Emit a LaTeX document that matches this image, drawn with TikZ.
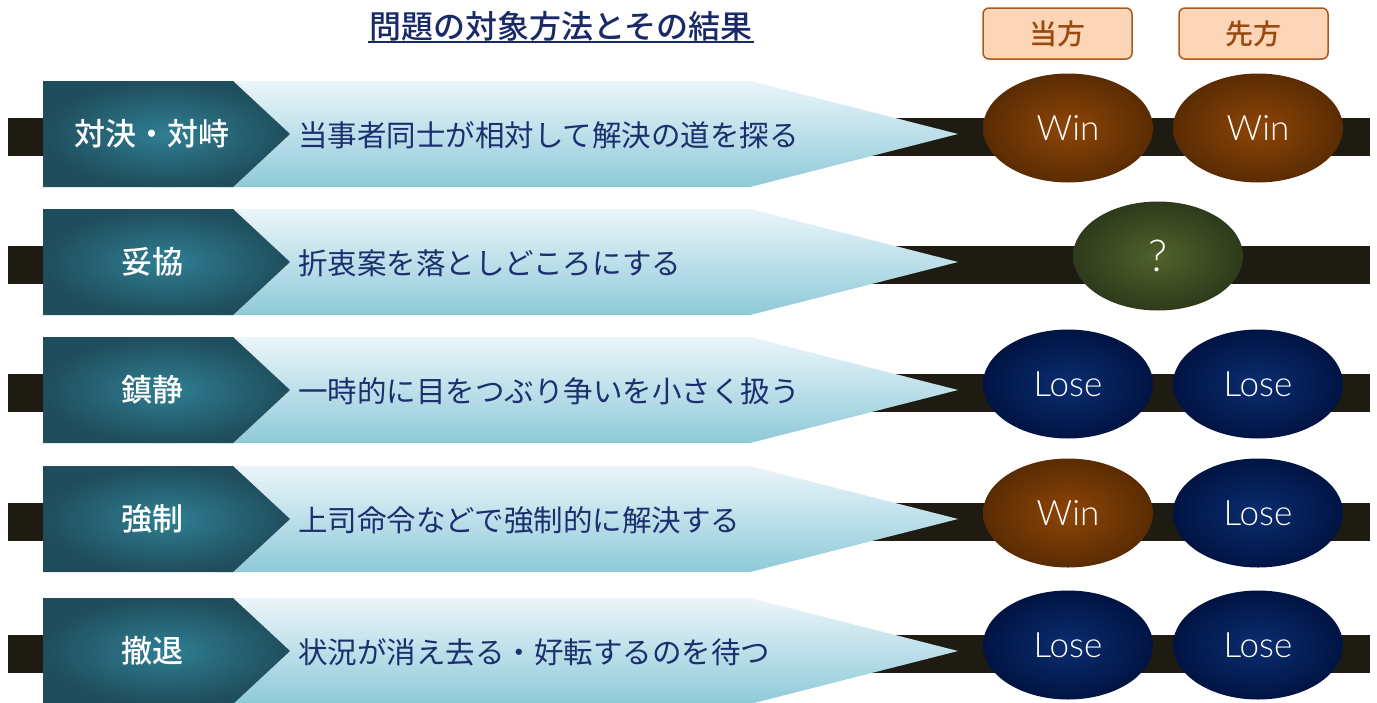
\documentclass[tikz,border=0pt]{standalone}
\usepackage{fontspec}
\setmainfont{Noto Sans CJK JP}[BoldFont={Noto Sans CJK JP Medium}]
\newfontfamily\latinfont{Lato Light}
\usetikzlibrary{shapes.geometric}
\definecolor{barcol}{HTML}{1E1B12}
\definecolor{chevin}{HTML}{2F7F93}
\definecolor{chevout}{HTML}{1F4D5C}
\definecolor{lighttop}{HTML}{EBF5FA}
\definecolor{lightbot}{HTML}{8ECAD9}
\definecolor{navytext}{HTML}{1B2F6E}
\definecolor{wincore}{HTML}{8E4507}
\definecolor{winedge}{HTML}{5A2C03}
\definecolor{losecore}{HTML}{0B2D70}
\definecolor{loseedge}{HTML}{001443}
\definecolor{qcore}{HTML}{4F632A}
\definecolor{qedge}{HTML}{2E3A1B}
\definecolor{peach}{HTML}{FBD5B5}
\definecolor{peachborder}{HTML}{A85A1E}
\definecolor{peachtext}{HTML}{9A4A10}
\definecolor{titlecol}{HTML}{1A2A66}
\tikzset{
  barstyle/.style={fill=barcol, draw=none},
  lightarrow/.style={top color=lighttop, bottom color=lightbot, draw=none},
  darkchev/.style={shading=radial, inner color=chevin, outer color=chevout, draw=none},
  chevlabel/.style={text=white, font=\fontsize{31}{31}\selectfont\bfseries, inner sep=0pt},
  desclabel/.style={text=navytext, font=\fontsize{29.5}{29.5}\selectfont, inner sep=0pt, anchor=west},
  ball/.style={ellipse, minimum width=170pt, minimum height=109pt, inner sep=0pt, text=white,
    font=\latinfont\fontsize{35}{35}\selectfont},
  winball/.style={ball, shading=radial, inner color=wincore, outer color=winedge},
  loseball/.style={ball, shading=radial, inner color=losecore, outer color=loseedge},
  qball/.style={ball, shading=radial, inner color=qcore, outer color=qedge},
  headbox/.style={rectangle, rounded corners=6pt, draw=peachborder, line width=1.5pt, fill=peach,
    minimum width=149pt, minimum height=51pt, inner sep=0pt, text=peachtext,
    font=\fontsize{28}{28}\selectfont\bfseries},
}
\begin{document}
\begin{tikzpicture}[x=1pt,y=-1pt]
\useasboundingbox (0,0) rectangle (1377,702);
% title
\node[text=titlecol, font=\fontsize{32}{32}\selectfont\bfseries, inner sep=0pt] (title) at (561,26) {問題の対象方法とその結果};
\draw[titlecol, line width=1.6pt] (368,42) -- (754,42);
% header boxes
\node[headbox] (h1) at (1057.5,33.5) {当方};
\node[headbox] (h2) at (1253.5,33.5) {先方};
% rows
\foreach \i/\yc/\lab/\desc in {1/134/対決・対峙/当事者同士が相対して解決の道を探る,
                               2/262/妥協/折衷案を落としどころにする,
                               3/390/鎮静/一時的に目をつぶり争いを小さく扱う,
                               4/519/強制/上司命令などで強制的に解決する,
                               5/651/撤退/状況が消え去る・好転するのを待つ}{
  \fill[barstyle] (8,\yc-16) rectangle (1370,\yc+22);
  \path[lightarrow] (220,\yc-53) -- (750,\yc-53) -- (958,\yc) -- (750,\yc+53) -- (220,\yc+53) -- cycle;
  \path[darkchev] (43,\yc-53) -- (233,\yc-53) -- (290,\yc) -- (233,\yc+53) -- (43,\yc+53) -- cycle;
  \node[chevlabel] (lab\i) at (152,\yc) {\lab};
  \node[desclabel] (desc\i) at (298,\yc+1) {\desc};
}
% results
\node[winball]  (r1a) at (1068,128) {Win};
\node[winball]  (r1b) at (1258,128) {Win};
\node[qball, font=\latinfont\fontsize{44}{44}\selectfont] (r2) at (1158,256) {?};
\node[loseball] (r3a) at (1068,384) {Lose};
\node[loseball] (r3b) at (1258,384) {Lose};
\node[winball]  (r4a) at (1068,513) {Win};
\node[loseball] (r4b) at (1258,513) {Lose};
\node[loseball] (r5a) at (1068,645) {Lose};
\node[loseball] (r5b) at (1258,645) {Lose};
\end{tikzpicture}
\end{document}
